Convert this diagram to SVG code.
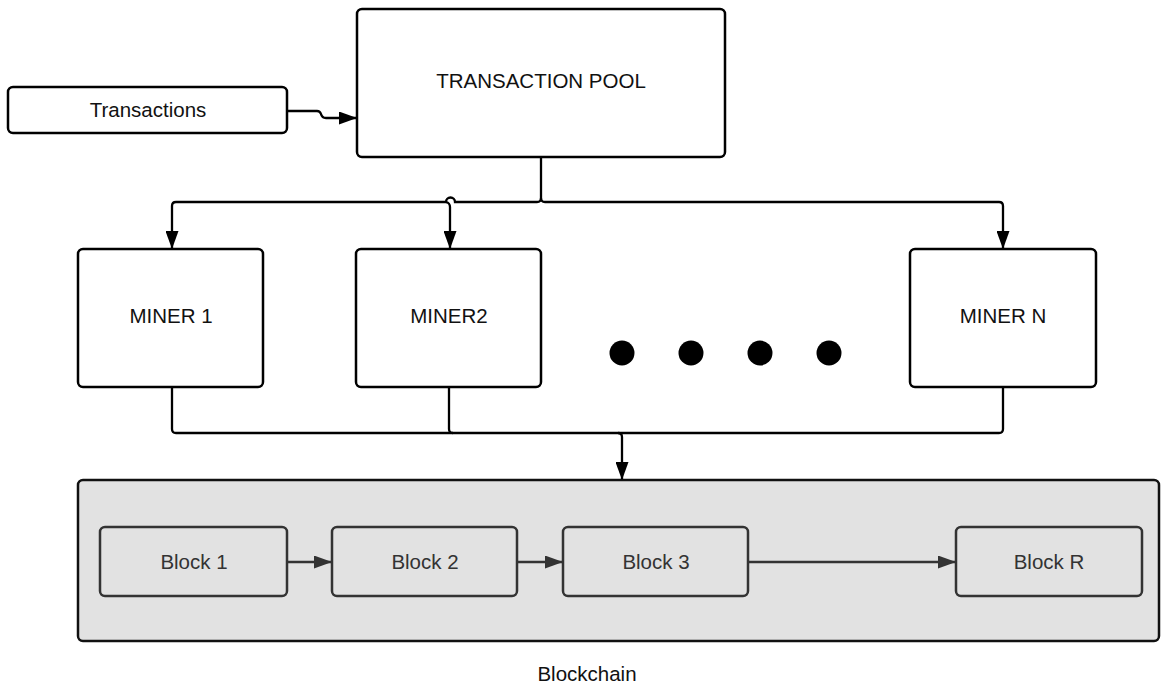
<svg xmlns="http://www.w3.org/2000/svg" width="1161" height="686" viewBox="0 0 1161 686">
<defs>
<style>
.box{fill:#fff;stroke:#000;stroke-width:2.5}
.blk{fill:#e2e2e2;stroke:#333;stroke-width:2.5}
.chain{fill:#e2e2e2;stroke:#111;stroke-width:2.5}
.lbl{font-family:"Liberation Sans",Arial,sans-serif;font-size:20.5px;fill:#111;text-anchor:middle}
.blbl{font-family:"Liberation Sans",Arial,sans-serif;font-size:20.5px;fill:#333;text-anchor:middle}
.conn{fill:none;stroke:#000;stroke-width:2.3}
.bconn{fill:none;stroke:#333;stroke-width:2.3}
</style>
<marker id="ah" viewBox="0 0 18 13" refX="17" refY="6.5" markerWidth="18" markerHeight="13" markerUnits="userSpaceOnUse" orient="auto">
<path d="M0,0 L18,6.5 L0,13 Z" fill="#000"/>
</marker>
<marker id="ahg" viewBox="0 0 18 13" refX="17" refY="6.5" markerWidth="18" markerHeight="13" markerUnits="userSpaceOnUse" orient="auto">
<path d="M0,0 L18,6.5 L0,13 Z" fill="#333"/>
</marker>
</defs>
<rect width="1161" height="686" fill="#fff"/>

<g id="transactions"><rect class="box" x="8" y="87" width="279" height="46" rx="5"/><text class="lbl" x="148" y="117">Transactions</text></g>
<g id="pool"><rect class="box" x="357" y="9" width="368" height="148" rx="5"/><text class="lbl" x="541" y="88">TRANSACTION POOL</text></g>
<g id="miner1"><rect class="box" x="78" y="249" width="185" height="138" rx="5"/><text class="lbl" x="171" y="323">MINER 1</text></g>
<g id="miner2"><rect class="box" x="356" y="249" width="185" height="138" rx="5"/><text class="lbl" x="449" y="323">MINER2</text></g>
<g id="minerN"><rect class="box" x="910" y="249" width="186" height="138" rx="5"/><text class="lbl" x="1003" y="323">MINER N</text></g>
<g id="dots" fill="#000"><circle cx="622" cy="353" r="12.5"/><circle cx="691" cy="353" r="12.5"/><circle cx="760" cy="353" r="12.5"/><circle cx="829" cy="353" r="12.5"/></g>

<g id="blockchain"><rect class="chain" x="78" y="480" width="1081" height="161" rx="5"/>
<text class="lbl" x="587" y="681">Blockchain</text></g>
<g id="block1"><rect class="blk" x="100" y="527" width="187" height="69" rx="5"/><text class="blbl" x="194" y="569">Block 1</text></g>
<g id="block2"><rect class="blk" x="332" y="527" width="185" height="69" rx="5"/><text class="blbl" x="425" y="569">Block 2</text></g>
<g id="block3"><rect class="blk" x="563" y="527" width="185" height="69" rx="5"/><text class="blbl" x="656" y="569">Block 3</text></g>
<g id="blockR"><rect class="blk" x="956" y="527" width="186" height="69" rx="5"/><text class="blbl" x="1049" y="569">Block R</text></g>

<g id="connectors">
<path class="conn" d="M287,111 H317 Q320,111 321,114 Q322,118 326,118 H356" marker-end="url(#ah)"/>
<path class="conn" d="M541,157 V198 Q541,202 537,202 H455 A4.5,4.5 0 0 0 446,202 H176 Q172,202 172,206 V248" marker-end="url(#ah)"/>
<path class="conn" d="M541,198 Q541,202 545,202 H999 Q1003,202 1003,206 V248" marker-end="url(#ah)"/>
<path class="conn" d="M446,202 Q450,203 450,207 V248" marker-end="url(#ah)"/>
<path class="conn" d="M172,387 V429 Q172,433 176,433 H999 Q1003,433 1003,429 V387"/>
<path class="conn" d="M449,387 V429 Q449,433 453,433"/>
<path class="conn" d="M618,433 Q622,433 622,437 V479" marker-end="url(#ah)"/>
<path class="bconn" d="M287,562 H331" marker-end="url(#ahg)"/>
<path class="bconn" d="M517,562 H562" marker-end="url(#ahg)"/>
<path class="bconn" d="M748,562 H955" marker-end="url(#ahg)"/>
</g>
</svg>
